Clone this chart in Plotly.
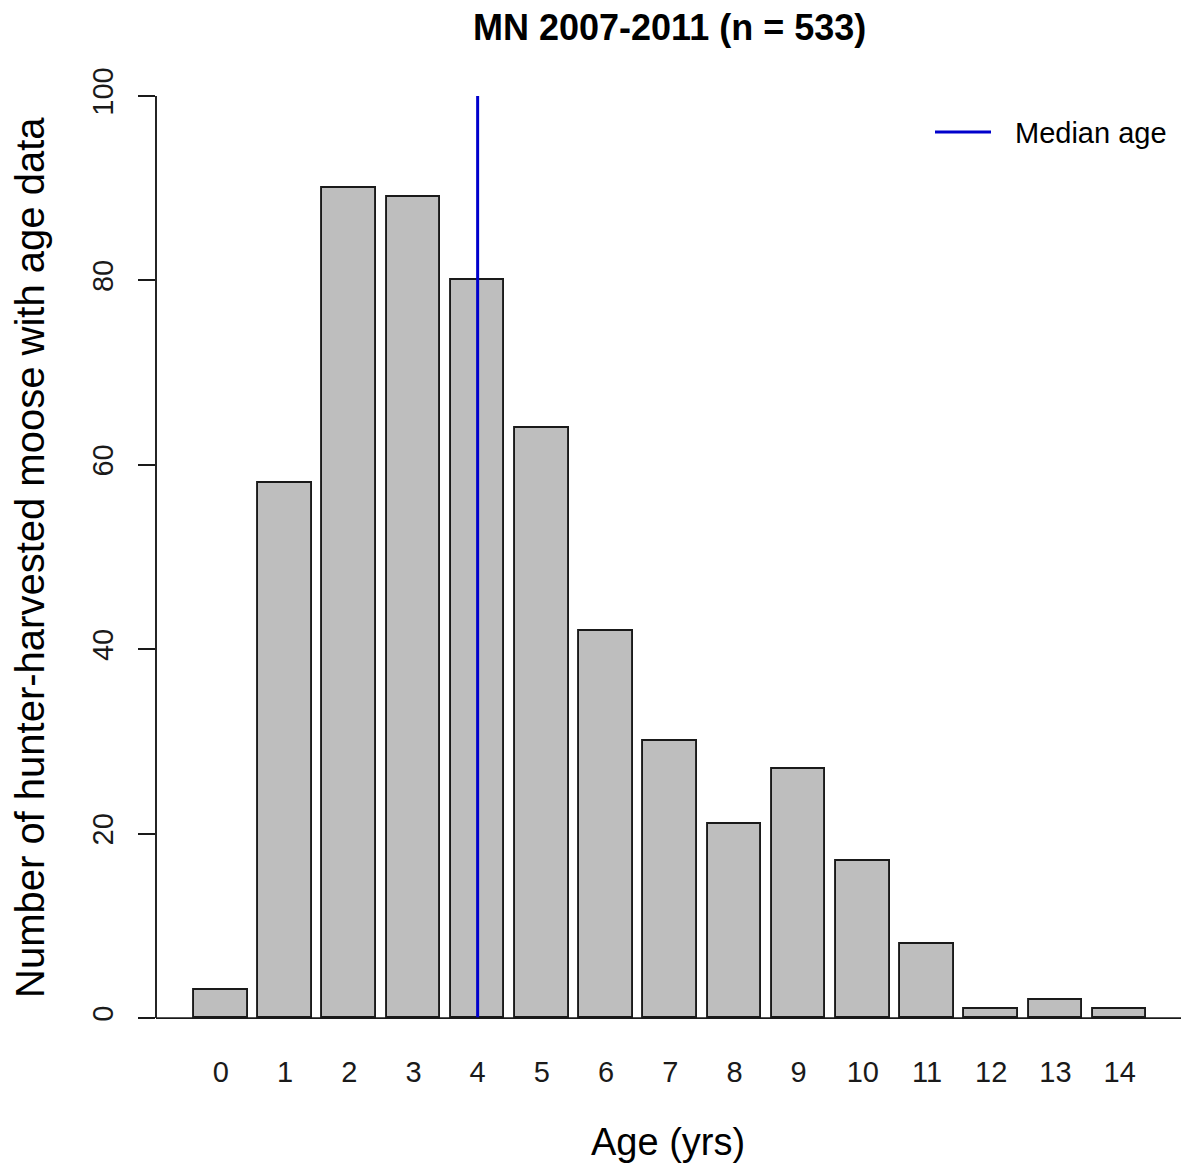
import plotly.graph_objects as go

# ---- data ----
ages = list(range(15))
age_labels = [str(a) for a in ages]
counts = [3, 58, 90, 89, 80, 64, 42, 30, 21, 27, 17, 8, 1, 2, 1]
median_age = 4
title_text = "MN 2007-2011 (n = 533)"
y_title = "Number of hunter-harvested moose with age data"
x_title = "Age (yrs)"
legend_label = "Median age"
y_ticks = [0, 20, 40, 60, 80, 100]

FONT = "Liberation Sans, Arial, Helvetica, sans-serif"
INK = "#1a1a1a"

W, H = 1181, 1167
ML, MR, MT, MB = 156, 0, 59, 112
PW = W - ML - MR
PH = H - MT - MB


def px_x(px):
    return (px - ML) / PW


def px_y(py):
    return (H - MB - py) / PH


fig = go.Figure()

fig.add_trace(go.Bar(
    x=ages, y=counts, width=1 / 1.2,
    marker=dict(color="#bebebe", line=dict(color=INK, width=1.9)),
    showlegend=False, hoverinfo="x+y",
))

fig.add_trace(go.Scatter(
    x=[median_age, median_age], y=[0, 100], mode="lines",
    line=dict(color="#0000cc", width=3), showlegend=False,
))

shapes = [
    # y axis line (spans first to last tick only, R style)
    dict(type="line", xref="paper", yref="y", x0=0, x1=0, y0=0, y1=100,
         line=dict(color=INK, width=1.9)),
    # horizontal baseline at y = 0
    dict(type="line", xref="paper", yref="y", x0=0, x1=1, y0=0, y1=0,
         line=dict(color=INK, width=1.9)),
    # legend line sample
    dict(type="line", xref="paper", yref="paper",
         x0=px_x(935), x1=px_x(991), y0=px_y(132), y1=px_y(132),
         line=dict(color="#0000cc", width=3)),
]

annotations = [
    dict(text="<b>" + title_text + "</b>", xref="paper", yref="paper",
         x=px_x(669), y=px_y(27), xanchor="center", yanchor="middle",
         showarrow=False, font=dict(family=FONT, size=36, color="#000")),
    dict(text=x_title, xref="paper", yref="paper",
         x=px_x(668), y=px_y(1142), xanchor="center", yanchor="middle",
         showarrow=False, font=dict(family=FONT, size=38, color="#000")),
    dict(text=y_title, xref="paper", yref="paper", textangle=-90,
         x=px_x(30), y=px_y(558), xanchor="center", yanchor="middle",
         showarrow=False, font=dict(family=FONT, size=40, color="#000")),
    dict(text=legend_label, xref="paper", yref="paper",
         x=px_x(1013), y=px_y(133), xanchor="left", yanchor="middle",
         showarrow=False, font=dict(family=FONT, size=29, color="#000")),
]

fig.update_layout(
    width=W, height=H,
    margin=dict(l=ML, r=MR, t=MT, b=MB, pad=0),
    paper_bgcolor="white", plot_bgcolor="white",
    font=dict(family=FONT, color=INK),
    shapes=shapes, annotations=annotations,
    bargap=0,
    xaxis=dict(
        range=[-1.01, -1.01 + PW / 64.2],
        tickmode="array", tickvals=ages, ticktext=age_labels,
        showgrid=False, zeroline=False, showline=False, ticks="",
        tickfont=dict(family=FONT, size=29, color=INK),
        ticklabelstandoff=-3,
    ),
    yaxis=dict(
        range=[-4, 104],
        tickmode="array", tickvals=y_ticks, ticktext=[str(v) for v in y_ticks],
        showgrid=False, zeroline=False, showline=False,
        ticks="outside", ticklen=17, tickwidth=1.9, tickcolor=INK,
        tickangle=-90,
        tickfont=dict(family=FONT, size=29, color=INK),
        ticklabelstandoff=13,
    ),
)

fig.write_html(
    "out.html",
    config={"displayModeBar": False},
    post_script="document.body.style.margin='0';document.body.style.overflow='hidden';",
)
